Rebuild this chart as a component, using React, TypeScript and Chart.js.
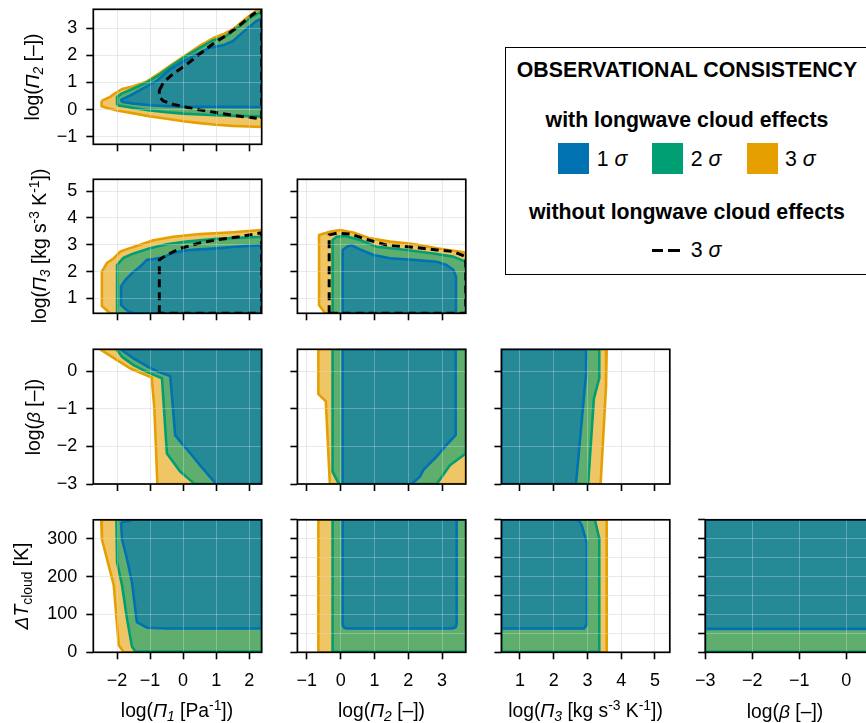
import React, { useEffect, useRef } from "react";
import { Chart, registerables } from "chart.js";

Chart.register(...registerables);

type Pt = [number, number];

const FONT = "'Liberation Sans', Arial, Helvetica, sans-serif";

const BLUE = "#0072B2";
const GREEN = "#009E73";
const ORANGE = "#E69F00";
const BLUE_FILL = "rgba(0,114,178,0.6)";
const GREEN_FILL = "rgba(0,158,115,0.6)";
const ORANGE_FILL = "rgba(230,159,0,0.6)";

// ---------- axis limits ----------
const PI1_LIM: Pt = [-2.72, 2.38];
const PI2_LIM: Pt = [-1.28, 3.7];
const PI3_LIM: Pt = [0.45, 5.44];
const BETA_LIM: Pt = [-3, 0.58];
const DT_LIM: Pt = [0, 350];

// ---------- tick values ----------
const PI1_TICKS = [-2, -1, 0, 1, 2];
const PI2_TICKS = [-1, 0, 1, 2, 3];
const PI3_TICKS = [1, 2, 3, 4, 5];
const BETA_TICKS = [-3, -2, -1, 0];
const DT_TICKS = [0, 100, 200, 300];
const DT_MINOR_TICKS = [0, 50, 100, 150, 200, 250, 300, 350];

// ---------- contours: log(Pi2) vs log(Pi1) ----------
const PI1_PI2_S3: Pt[] = [[-2.47,0.32],[-2.21,0.47],[-2.05,0.61],[-1.85,0.76],[-1.5,0.86],[-1.1,1.04],[-0.7,1.36],[-0.3,1.7],[0.1,2.02],[0.5,2.35],[0.9,2.63],[1.25,2.8],[1.55,3.0],[1.92,3.38],[2.23,3.66],[2.38,3.75],[2.38,-0.64],[1.5,-0.6],[1.0,-0.56],[0.5,-0.5],[0.0,-0.43],[-0.5,-0.34],[-1.0,-0.25],[-1.5,-0.14],[-2.0,-0.03],[-2.3,0.06],[-2.47,0.12],[-2.47,0.32]];
const PI1_PI2_S2: Pt[] = [[-2.0,0.16],[-2.0,0.47],[-1.85,0.6],[-1.5,0.78],[-1.1,1.0],[-0.7,1.3],[-0.3,1.65],[0.1,1.98],[0.5,2.28],[0.9,2.55],[1.3,2.72],[1.7,3.06],[2.1,3.44],[2.38,3.62],[2.38,-0.25],[1.5,-0.23],[1.0,-0.21],[0.5,-0.18],[0.0,-0.15],[-0.5,-0.1],[-1.0,-0.03],[-1.5,0.06],[-2.0,0.16]];
const PI1_PI2_S1: Pt[] = [[-1.87,0.29],[-1.87,0.37],[-1.6,0.52],[-1.2,0.79],[-0.8,1.06],[-0.4,1.48],[0.0,1.78],[0.4,2.04],[0.8,2.28],[1.2,2.37],[1.5,2.52],[1.9,2.95],[2.2,3.25],[2.38,3.36],[2.38,0.09],[1.0,0.1],[0.0,0.11],[-0.5,0.13],[-1.0,0.16],[-1.5,0.22],[-1.87,0.29]];
const PI1_PI2_NOLW: Pt[] = [[-0.72,0.71],[-0.6,1.0],[-0.3,1.32],[0.1,1.66],[0.5,2.05],[0.9,2.42],[1.3,2.73],[1.7,3.1],[2.1,3.5],[2.38,3.72],[2.38,-0.34],[1.5,-0.21],[1.0,-0.11],[0.5,-0.01],[0.1,0.09],[-0.3,0.19],[-0.6,0.32],[-0.72,0.47],[-0.72,0.71]];

// ---------- contours: log(Pi3) vs log(Pi1) ----------
const PI1_PI3_S3: Pt[] = [[-2.21,0.45],[-2.46,0.72],[-2.46,2.0],[-2.31,2.32],[-2.1,2.5],[-1.9,2.75],[-1.7,2.84],[-1.3,3.0],[-0.9,3.17],[-0.3,3.3],[0.5,3.4],[1.5,3.47],[2.38,3.55],[2.38,0.45],[-2.21,0.45]];
const PI1_PI3_S2: Pt[] = [[-2.0,0.45],[-2.0,2.25],[-1.8,2.52],[-1.5,2.68],[-1.0,2.87],[-0.5,3.02],[0.1,3.12],[1.0,3.22],[2.38,3.3],[2.38,0.45],[-2.0,0.45]];
const PI1_PI3_S1: Pt[] = [[-1.5,0.45],[-1.7,0.56],[-1.88,0.76],[-1.88,1.45],[-1.75,1.69],[-1.55,1.94],[-1.3,2.19],[-1.1,2.44],[-0.9,2.47],[-0.6,2.54],[-0.3,2.7],[0.1,2.8],[0.5,2.83],[0.9,2.86],[1.5,2.92],[2.0,2.96],[2.38,2.99],[2.38,0.45],[-1.5,0.45]];
const PI1_PI3_NOLW: Pt[] = [[-0.72,0.45],[-0.72,2.44],[-0.5,2.62],[-0.1,2.86],[0.5,3.07],[1.0,3.18],[1.7,3.3],[2.38,3.45],[2.38,0.45],[-0.72,0.45]];

// ---------- contours: log(Pi3) vs log(Pi2) ----------
const PI2_PI3_S3: Pt[] = [[-0.46,0.45],[-0.64,0.76],[-0.64,3.37],[-0.32,3.49],[-0.02,3.55],[0.37,3.46],[0.87,3.24],[1.46,3.12],[2.15,3.03],[2.84,2.87],[3.33,2.78],[3.7,2.71],[3.7,0.45],[-0.46,0.45]];
const PI2_PI3_S2: Pt[] = [[-0.24,0.45],[-0.24,3.18],[-0.12,3.3],[0.13,3.33],[0.57,3.18],[1.06,2.93],[1.95,2.81],[2.74,2.68],[3.33,2.56],[3.7,2.37],[3.7,0.45],[-0.24,0.45]];
const PI2_PI3_S1: Pt[] = [[0.06,0.45],[0.06,2.81],[0.18,2.93],[0.33,2.98],[0.57,2.83],[0.97,2.62],[1.46,2.5],[2.15,2.44],[2.84,2.37],[3.13,2.25],[3.33,2.07],[3.41,1.82],[3.41,0.45],[0.06,0.45]];
const PI2_PI3_NOLW: Pt[] = [[-0.34,0.45],[-0.34,3.37],[-0.12,3.43],[0.28,3.4],[0.77,3.2],[1.36,2.99],[2.15,2.91],[2.84,2.81],[3.33,2.75],[3.7,2.56],[3.7,0.45],[-0.34,0.45]];

// ---------- contours: log(beta) vs log(Pi1) ----------
const PI1_BETA_S3: Pt[] = [[-2.51,0.58],[-2.0,0.29],[-1.6,0.07],[-0.95,-0.17],[-0.87,-1.0],[-0.78,-3.0],[2.38,-3.0],[2.38,0.58],[-2.51,0.58]];
const PI1_BETA_S2: Pt[] = [[-2.02,0.58],[-1.85,0.38],[-1.5,0.16],[-1.1,-0.02],[-0.64,-0.19],[-0.49,-2.19],[-0.09,-2.67],[0.31,-2.97],[0.35,-3.0],[2.38,-3.0],[2.38,0.58],[-2.02,0.58]];
const PI1_BETA_S1: Pt[] = [[-1.9,0.58],[-1.5,0.34],[-1.1,0.13],[-0.75,-0.02],[-0.39,-0.13],[-0.24,-1.7],[-0.04,-1.92],[0.26,-2.23],[0.51,-2.5],[1.0,-3.0],[2.38,-3.0],[2.38,0.58],[-1.9,0.58]];

// ---------- contours: log(beta) vs log(Pi2) ----------
const PI2_BETA_S3: Pt[] = [[-0.66,0.58],[-0.66,-0.61],[-0.44,-0.8],[-0.32,-3.0],[3.7,-3.0],[3.7,0.58],[-0.66,0.58]];
const PI2_BETA_S2: Pt[] = [[-0.24,0.58],[-0.24,-2.67],[-0.07,-2.97],[-0.06,-3.0],[2.84,-3.0],[3.23,-2.5],[3.43,-2.37],[3.7,-2.19],[3.7,0.58],[-0.24,0.58]];
const PI2_BETA_S1: Pt[] = [[0.06,0.58],[0.06,-3.0],[2.1,-3.0],[2.34,-2.81],[2.45,-2.62],[2.54,-2.54],[2.84,-2.27],[3.13,-1.96],[3.4,-1.7],[3.4,0.58],[0.06,0.58]];

// ---------- contours: log(beta) vs log(Pi3) ----------
const PI3_BETA_S3: Pt[] = [[0.45,0.58],[3.57,0.58],[3.55,-0.42],[3.39,-3.0],[0.45,-3.0],[0.45,0.58]];
const PI3_BETA_S2: Pt[] = [[0.45,0.58],[3.35,0.58],[3.35,-0.19],[3.19,-0.73],[3.02,-3.0],[0.45,-3.0],[0.45,0.58]];
const PI3_BETA_S1: Pt[] = [[0.45,0.58],[2.98,0.58],[2.96,-0.06],[2.66,-3.0],[0.45,-3.0],[0.45,0.58]];

// ---------- contours: dT_cloud vs log(Pi1) ----------
const PI1_DT_S3: Pt[] = [[-2.48,350],[-2.46,299],[-2.1,177],[-1.95,19],[-1.8,0],[2.38,0],[2.38,350],[-2.48,350]];
const PI1_DT_S2: Pt[] = [[-2.02,350],[-2.0,238],[-1.85,177],[-1.7,89],[-1.55,15],[-1.45,2],[2.38,2],[2.38,350],[-2.02,350]];
const PI1_DT_S1: Pt[] = [[-1.88,344],[-1.85,299],[-1.7,247],[-1.55,185],[-1.4,80],[-1.1,65],[-0.5,63],[2.38,63],[2.38,350],[-1.55,350],[-1.6,347],[-1.88,344]];

// ---------- contours: dT_cloud vs log(Pi2) ----------
const PI2_DT_S3: Pt[] = [[-0.66,0],[-0.66,350],[3.7,350],[3.7,0],[-0.66,0]];
const PI2_DT_S2: Pt[] = [[-0.24,1],[-0.24,350],[3.7,350],[3.7,1],[-0.24,1]];
const PI2_DT_S1: Pt[] = [[0.06,350],[0.06,72],[0.1,65],[0.2,63],[3.3,63],[3.4,66],[3.43,75],[3.43,350],[0.06,350]];

// ---------- contours: dT_cloud vs log(Pi3) ----------
const PI3_DT_S3: Pt[] = [[0.45,0],[3.57,0],[3.57,350],[0.45,350],[0.45,0]];
const PI3_DT_S2: Pt[] = [[0.45,1],[3.35,1],[3.35,301],[3.22,350],[0.45,350],[0.45,1]];
const PI3_DT_S1: Pt[] = [[0.45,63],[2.9,63],[2.97,72],[2.98,290],[2.83,336],[2.73,350],[0.45,350],[0.45,63]];

// ---------- contours: dT_cloud vs log(beta) ----------
const BETA_DT_S3: Pt[] = [[-3,0],[0.58,0],[0.58,350],[-3,350],[-3,0]];
const BETA_DT_S2: Pt[] = [[-3,1],[0.58,1],[0.58,350],[-3,350],[-3,1]];
const BETA_DT_S1: Pt[] = [[-3,62],[0.58,62],[0.58,350],[-3,350],[-3,62]];

const AXES: Record<string, { lim: Pt; ticks: number[] }> = {
  pi1: { lim: PI1_LIM, ticks: PI1_TICKS },
  pi2: { lim: PI2_LIM, ticks: PI2_TICKS },
  pi3: { lim: PI3_LIM, ticks: PI3_TICKS },
  beta: { lim: BETA_LIM, ticks: BETA_TICKS },
  dt: { lim: DT_LIM, ticks: DT_TICKS },
  dtMinor: { lim: DT_LIM, ticks: DT_MINOR_TICKS },
};

type PanelDef = {
  row: number; col: number; x: string; y: string;
  s1: Pt[]; s2: Pt[]; s3: Pt[]; nolw?: Pt[];
};

const PANELS: PanelDef[] = [
  { row: 0, col: 0, x: "pi1", y: "pi2", s1: PI1_PI2_S1, s2: PI1_PI2_S2, s3: PI1_PI2_S3, nolw: PI1_PI2_NOLW },
  { row: 1, col: 0, x: "pi1", y: "pi3", s1: PI1_PI3_S1, s2: PI1_PI3_S2, s3: PI1_PI3_S3, nolw: PI1_PI3_NOLW },
  { row: 1, col: 1, x: "pi2", y: "pi3", s1: PI2_PI3_S1, s2: PI2_PI3_S2, s3: PI2_PI3_S3, nolw: PI2_PI3_NOLW },
  { row: 2, col: 0, x: "pi1", y: "beta", s1: PI1_BETA_S1, s2: PI1_BETA_S2, s3: PI1_BETA_S3 },
  { row: 2, col: 1, x: "pi2", y: "beta", s1: PI2_BETA_S1, s2: PI2_BETA_S2, s3: PI2_BETA_S3 },
  { row: 2, col: 2, x: "pi3", y: "beta", s1: PI3_BETA_S1, s2: PI3_BETA_S2, s3: PI3_BETA_S3 },
  { row: 3, col: 0, x: "pi1", y: "dt", s1: PI1_DT_S1, s2: PI1_DT_S2, s3: PI1_DT_S3 },
  { row: 3, col: 1, x: "pi2", y: "dtMinor", s1: PI2_DT_S1, s2: PI2_DT_S2, s3: PI2_DT_S3 },
  { row: 3, col: 2, x: "pi3", y: "dtMinor", s1: PI3_DT_S1, s2: PI3_DT_S2, s3: PI3_DT_S3 },
  { row: 3, col: 3, x: "beta", y: "dtMinor", s1: BETA_DT_S1, s2: BETA_DT_S2, s3: BETA_DT_S3 },
];

// ---------- layout (positions only) ----------
const COL_LEFT = [93.3, 297.4, 501.4, 705.2];
const COL_W = 168.4;
const ROW_TOP = [9.3, 179.3, 349.3, 519.8];
const ROW_H = [135, 134, 134.7, 132.5];

const fmt = (v: number) => (v < 0 ? "\u2212" + Math.abs(v) : String(v));
const toXY = (pts: Pt[]) => pts.map(([x, y]) => ({ x, y }));

const alignPx = (p: number) => Math.round(p - 0.5) + 0.5;

const panelPlugin = {
  id: "panelDecor",
  afterDatasetsDraw(chart: any) {
    const { ctx, chartArea: a, scales } = chart;
    ctx.save();
    ctx.beginPath();
    ctx.rect(a.left, a.top, a.right - a.left, a.bottom - a.top);
    ctx.clip();
    ctx.strokeStyle = "rgba(255,255,255,0.28)";
    ctx.lineWidth = 1;
    ctx.beginPath();
    for (const t of scales.x.ticks) {
      const p = alignPx(scales.x.getPixelForValue(t.value));
      ctx.moveTo(p, a.top);
      ctx.lineTo(p, a.bottom);
    }
    for (const t of scales.y.ticks) {
      const p = alignPx(scales.y.getPixelForValue(t.value));
      ctx.moveTo(a.left, p);
      ctx.lineTo(a.right, p);
    }
    ctx.stroke();
    ctx.restore();
  },
  afterDraw(chart: any) {
    const { ctx, chartArea: a } = chart;
    ctx.save();
    ctx.strokeStyle = "#000";
    ctx.lineWidth = 1.7;
    ctx.strokeRect(a.left, a.top, a.right - a.left, a.bottom - a.top);
    ctx.restore();
  },
};

function contourDs(pts: Pt[], color: string, fillColor: string) {
  return {
    data: toXY(pts),
    borderColor: color,
    backgroundColor: fillColor,
    borderWidth: 2.6,
    borderJoinStyle: "round",
    fill: "shape",
    pointRadius: 0,
    tension: 0,
  };
}

function Panel({ p }: { p: PanelDef }) {
  const ref = useRef<HTMLCanvasElement>(null);
  const left = COL_LEFT[p.col];
  const top = ROW_TOP[p.row];
  const w = COL_W;
  const h = ROW_H[p.row];
  const cLeft = p.col === 0 ? 0 : Math.floor(left - 16);
  const cTop = Math.floor(top - 8);
  const mL = left - cLeft;
  const mT = top - cTop;
  const cW = Math.ceil(mL + w + 10);
  const cH = Math.ceil(mT + h + (p.row === 3 ? 46 : 14));
  const mR = cW - mL - w;
  const mB = cH - mT - h;
  const showX = p.row === 3;
  const showY = p.col === 0;

  useEffect(() => {
    const xa = AXES[p.x];
    const ya = AXES[p.y];
    const datasets: any[] = [];
    if (p.nolw) {
      datasets.push({
        data: toXY(p.nolw),
        borderColor: "#000",
        borderWidth: 3,
        borderDash: [8, 5],
        fill: false,
        pointRadius: 0,
        tension: 0,
      });
    }
    datasets.push(contourDs(p.s1, BLUE, BLUE_FILL));
    datasets.push(contourDs(p.s2, GREEN, GREEN_FILL));
    datasets.push(contourDs(p.s3, ORANGE, ORANGE_FILL));

    const tickFont = { family: FONT, size: 18 };
    const grid = {
      color: "rgba(0,0,0,0.12)",
      lineWidth: 1,
      drawTicks: true,
      tickLength: 7,
      tickColor: "#000",
      tickWidth: 1.6,
    };
    const chart = new Chart(ref.current as HTMLCanvasElement, {
      type: "line",
      data: { datasets },
      options: {
        responsive: false,
        animation: false,
        devicePixelRatio: 1,
        events: [],
        layout: { padding: { left: 0, top: mT, right: mR, bottom: 0 } },
        plugins: {
          legend: { display: false },
          tooltip: { enabled: false },
          title: { display: false },
        },
        scales: {
          x: {
            type: "linear",
            position: "bottom",
            min: xa.lim[0],
            max: xa.lim[1],
            afterBuildTicks: (s: any) => {
              s.ticks = xa.ticks.map((v) => ({ value: v }));
            },
            afterFit: (s: any) => {
              s.height = mB;
              s.paddingLeft = 0;
              s.paddingRight = 0;
              s.paddingTop = 0;
              s.paddingBottom = 0;
            },
            grid,
            border: { display: false },
            ticks: {
              display: showX,
              padding: 11,
              autoSkip: false,
              maxRotation: 0,
              minRotation: 0,
              color: "#000",
              font: tickFont,
              callback: (v: any) => fmt(Number(v)),
            },
          },
          y: {
            type: "linear",
            position: "left",
            min: ya.lim[0],
            max: ya.lim[1],
            afterBuildTicks: (s: any) => {
              s.ticks = ya.ticks.map((v) => ({ value: v }));
            },
            afterFit: (s: any) => {
              s.width = mL;
              s.paddingLeft = 0;
              s.paddingRight = 0;
              s.paddingTop = 0;
              s.paddingBottom = 0;
            },
            grid,
            border: { display: false },
            ticks: {
              display: showY,
              padding: 9,
              autoSkip: false,
              color: "#000",
              font: tickFont,
              callback: (v: any) => fmt(Number(v)),
            },
          },
        },
      } as any,
      plugins: [panelPlugin],
    });
    return () => chart.destroy();
  }, []);

  return (
    <canvas
      ref={ref}
      width={cW}
      height={cH}
      style={{ position: "absolute", left: cLeft, top: cTop, width: cW, height: cH }}
    />
  );
}

const subStyle: React.CSSProperties = { fontSize: "0.72em", position: "relative", top: "0.3em" };
const supStyle: React.CSSProperties = { fontSize: "0.72em", position: "relative", top: "-0.5em" };
const Sub = ({ children }: any) => <span style={subStyle}>{children}</span>;
const Sup = ({ children }: any) => <span style={supStyle}>{children}</span>;

const LBL_PI1 = <>log(<i>Π</i><Sub><i>1</i></Sub> [Pa<Sup>-1</Sup>])</>;
const LBL_PI2 = <>log(<i>Π</i><Sub><i>2</i></Sub> [–])</>;
const LBL_PI3 = <>log(<i>Π</i><Sub><i>3</i></Sub> [kg s<Sup>-3</Sup> K<Sup>-1</Sup>])</>;
const LBL_BETA = <>log(<i>β</i> [–])</>;
const LBL_DT = <><i>ΔT</i><Sub>cloud</Sub> [K]</>;

const Y_TITLES = [
  { cx: 33, cy: 76.8, el: LBL_PI2 },
  { cx: 40, cy: 246.3, el: LBL_PI3 },
  { cx: 33, cy: 416.6, el: LBL_BETA },
  { cx: 22, cy: 586, el: LBL_DT },
];
const X_TITLES = [
  { cx: 177, el: LBL_PI1 },
  { cx: 381.5, el: LBL_PI2 },
  { cx: 585.5, el: LBL_PI3 },
  { cx: 785, el: LBL_BETA },
];

const textBase: React.CSSProperties = {
  position: "absolute",
  fontFamily: FONT,
  color: "#000",
  whiteSpace: "nowrap",
};

function Legend() {
  const L = 505;
  const W = 364;
  const FS = 21.3;
  const centerRow = (cy: number, content: any, bold: boolean) => (
    <div
      style={{
        ...textBase,
        left: L,
        width: W,
        top: cy - 14,
        height: 28,
        lineHeight: "28px",
        textAlign: "center",
        fontWeight: bold ? "bold" : "normal",
        fontSize: FS,
      }}
    >
      {content}
    </div>
  );
  const sq = (x: number, color: string) => (
    <div style={{ position: "absolute", left: x, top: 143.3, width: 30.5, height: 30.5, background: color }} />
  );
  const entry = (x: number, cy: number, txt: string) => (
    <div style={{ ...textBase, left: x, top: cy - 14, height: 28, lineHeight: "28px", fontSize: FS }}>
      {txt} <i>σ</i>
    </div>
  );
  return (
    <>
      <div
        style={{
          position: "absolute",
          left: L,
          top: 47,
          width: W,
          height: 228,
          border: "1.2px solid #000",
          boxSizing: "border-box",
          background: "#fff",
        }}
      />
      {centerRow(70, "OBSERVATIONAL CONSISTENCY", true)}
      {centerRow(120, "with longwave cloud effects", true)}
      {sq(558.3, BLUE)}
      {entry(596.7, 159, "1")}
      {sq(652.3, GREEN)}
      {entry(690.7, 159, "2")}
      {sq(747.3, ORANGE)}
      {entry(785, 159, "3")}
      {centerRow(211.7, "without longwave cloud effects", true)}
      <div style={{ position: "absolute", left: 651.7, top: 249, width: 11.7, height: 3.2, background: "#000" }} />
      <div style={{ position: "absolute", left: 668.3, top: 249, width: 11.7, height: 3.2, background: "#000" }} />
      {entry(690.7, 250, "3")}
    </>
  );
}

export default function App() {
  return (
    <div
      style={{
        position: "absolute",
        left: 0,
        top: 0,
        width: 866,
        height: 723,
        overflow: "hidden",
        background: "#fff",
      }}
    >
      {PANELS.map((p, i) => (
        <Panel key={i} p={p} />
      ))}
      {Y_TITLES.map((t, i) => (
        <div
          key={"y" + i}
          style={{
            ...textBase,
            left: t.cx,
            top: t.cy,
            fontSize: 19.3,
            lineHeight: "19px",
            transform: "translate(-50%, -50%) rotate(-90deg)",
          }}
        >
          {t.el}
        </div>
      ))}
      {X_TITLES.map((t, i) => (
        <div
          key={"x" + i}
          style={{
            ...textBase,
            left: t.cx,
            top: 710.5,
            fontSize: 19.3,
            lineHeight: "19px",
            transform: "translate(-50%, -50%)",
          }}
        >
          {t.el}
        </div>
      ))}
      <Legend />
    </div>
  );
}
